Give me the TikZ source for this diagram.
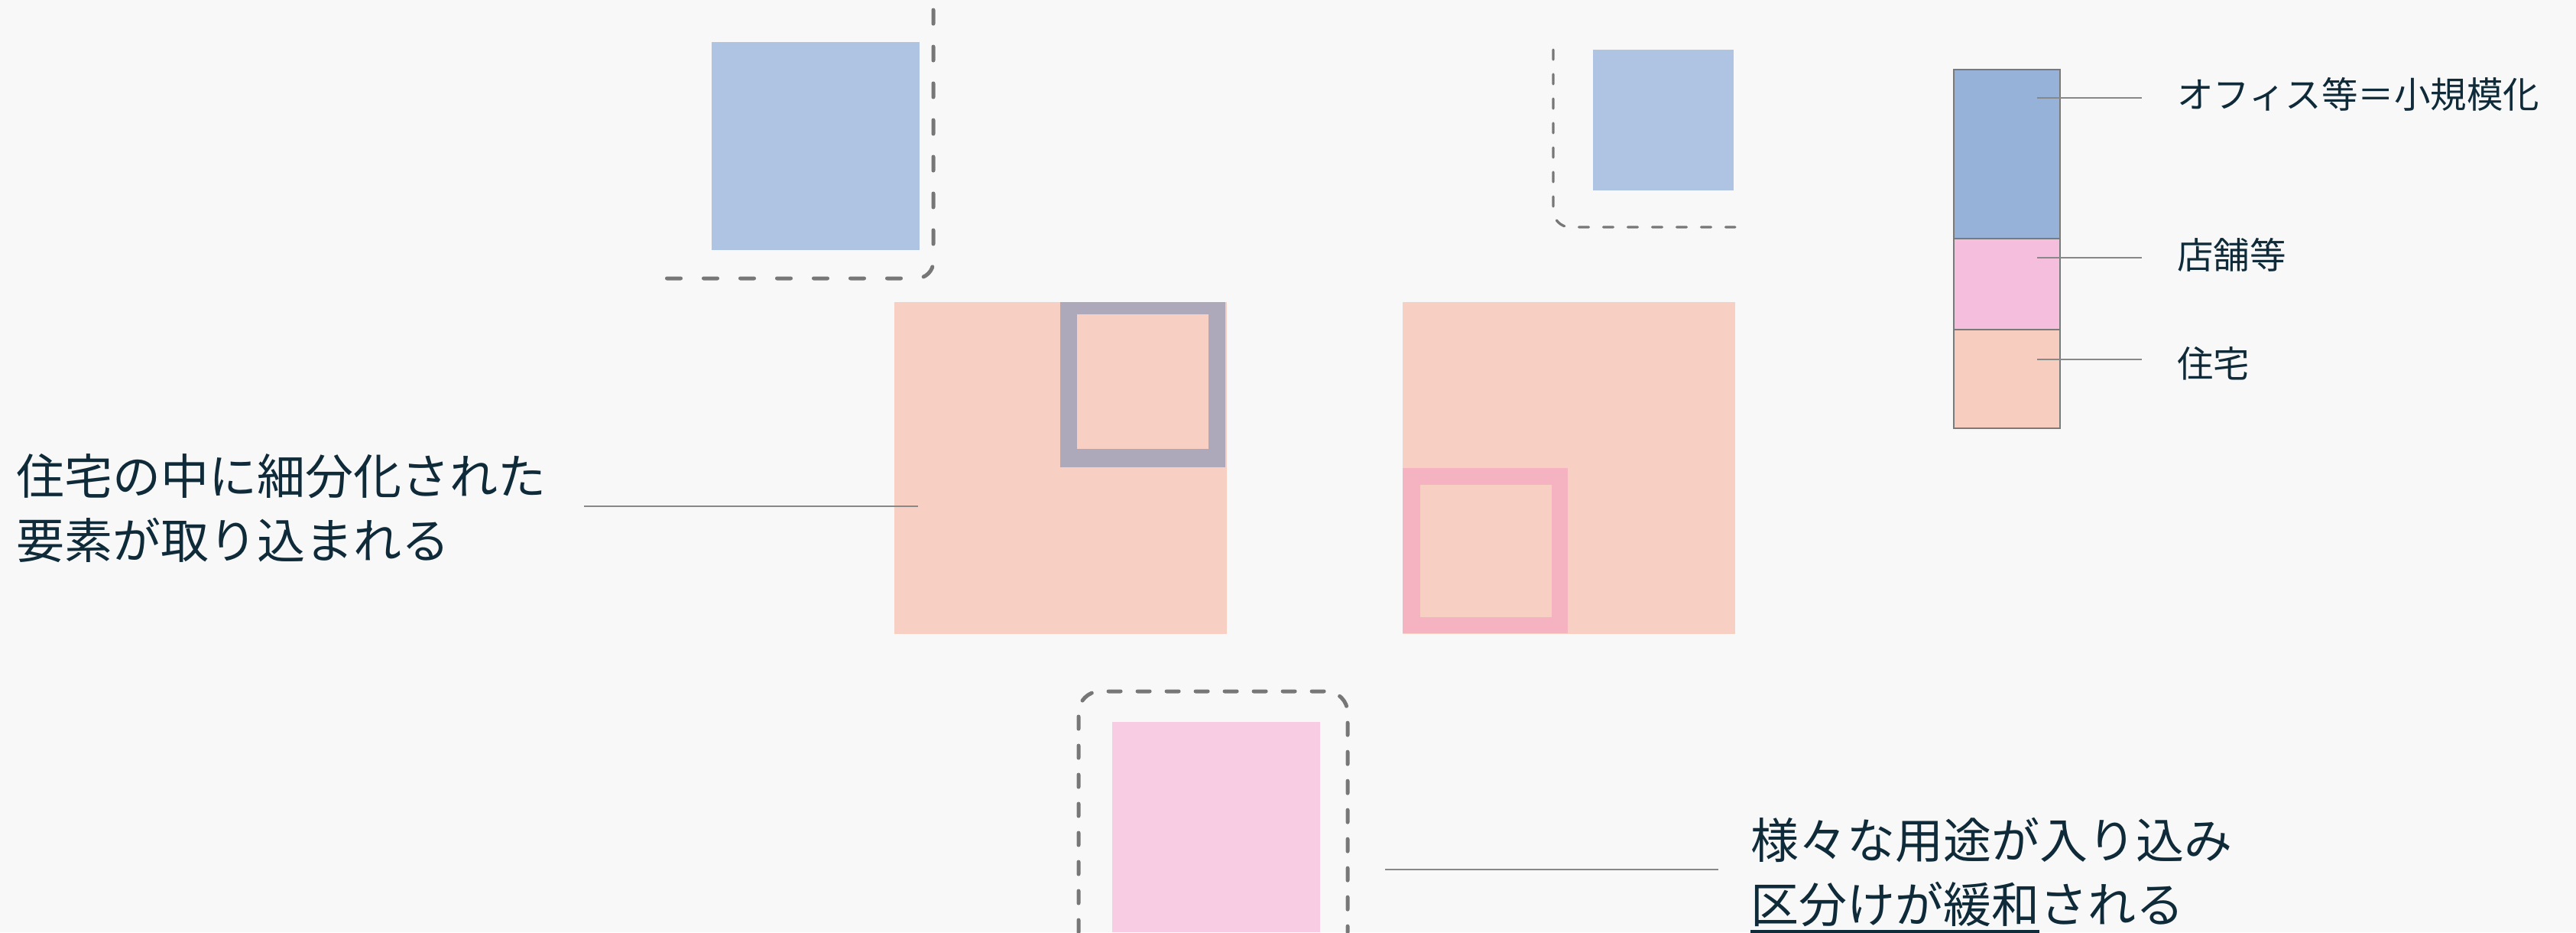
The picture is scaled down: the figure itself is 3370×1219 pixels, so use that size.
\documentclass[tikz,border=0pt]{standalone}
\usepackage{fontspec}
\setmainfont{Noto Sans CJK JP}
\definecolor{bg}{HTML}{F8F8F8}
\definecolor{ink}{HTML}{0F2A38}
\definecolor{leadgray}{HTML}{888888}
\definecolor{dashgray}{HTML}{777777}
\definecolor{bargray}{HTML}{7A7A7A}
\definecolor{offblue}{HTML}{AFC4E2}
\definecolor{legblue}{HTML}{97B2D9}
\definecolor{legpink}{HTML}{F6BEDD}
\definecolor{legpeach}{HTML}{F7CDBF}
\definecolor{homepeach}{HTML}{F7CFC3}
\definecolor{shoppink}{HTML}{F8CDE3}
\definecolor{framegray}{HTML}{ADA9BA}
\definecolor{framepink}{HTML}{F5B3C1}
\newcommand\kuline[1]{\setbox0\hbox{#1}\rlap{\rule[-14pt]{\wd0}{5pt}}\box0}
\begin{document}
\begin{tikzpicture}[x=1pt, y=-1pt,
    note/.style={text=ink, align=left, inner sep=0pt, font=\fontsize{63}{84}\selectfont},
    legtext/.style={text=ink, inner sep=0pt, anchor=west, font=\fontsize{47.5}{57}\selectfont},
    leader/.style={draw=leadgray, line width=2.5pt},
    legbar/.style={draw=bargray, line width=1.5pt},
    bound/.style={draw=dashgray, line width=5pt, line cap=round, dash pattern=on 18pt off 30pt},
    thinbound/.style={draw=dashgray, line width=3.3pt, line cap=round, dash pattern=on 13pt off 19pt}]
    \fill[bg] (0,0) rectangle (3370,1219);
    \useasboundingbox (0,0) rectangle (3370,1219);
    % upper blocks
    \fill[offblue] (931,55) rectangle (1203,327);
    \draw[bound, rounded corners=22pt] (1221,13) -- (1221,364) -- (862,364);
    \fill[offblue] (2084,65) rectangle (2268,249);
    \draw[thinbound, rounded corners=22pt] (2032,65) -- (2032,297) -- (2270,297);
    % housing blocks
    \fill[homepeach] (1170,395) rectangle (1605,829);
    \fill[framegray] (1387,395) rectangle (1603,611);
    \fill[homepeach] (1409,411) rectangle (1581,587);
    \fill[homepeach] (1835,395) rectangle (2270,829);
    \fill[framepink] (1835,612) rectangle (2051,828);
    \fill[homepeach] (1858,634) rectangle (2030,807);
    % shop block
    \fill[shoppink] (1455,944) rectangle (1727,1219);
    \draw[bound, rounded corners=28pt, dash pattern=on 16pt off 22pt] (1411,1219) -- (1411,904) -- (1763,904) -- (1763,1219);
    % legend
    \filldraw[legbar, fill=legblue] (2556,91) rectangle (2695,312);
    \filldraw[legbar, fill=legpink] (2556,312) rectangle (2695,431);
    \filldraw[legbar, fill=legpeach] (2556,431) rectangle (2695,560);
    \node[legtext] (offtxt) at (2848,123) {オフィス等＝小規模化};
    \node[legtext] (shoptxt) at (2848,333) {店舗等};
    \node[legtext] (hometxt) at (2848,475) {住宅};
    \coordinate (offpin) at (2665,128);
    \coordinate (shoppin) at (2665,337);
    \coordinate (homepin) at (2665,470);
    \draw[leader, shorten >=46pt] (offpin) -- (offpin -| offtxt.west);
    \draw[leader, shorten >=46pt] (shoppin) -- (shoppin -| shoptxt.west);
    \draw[leader, shorten >=46pt] (homepin) -- (homepin -| hometxt.west);
    % notes
    \node[note, anchor=west] (mixtxt) at (21,665) {住宅の中に細分化された\\要素が取り込まれる};
    \node[note, anchor=west] (easetxt) at (2290,1145) {様々な用途が入り込み\\\kuline{区分けが緩和}される};
    \coordinate (mixpin) at (1201,662);
    \coordinate (easepin) at (1812,1137);
    \draw[leader, shorten <=50pt] (mixpin -| mixtxt.east) -- (mixpin);
    \draw[leader, shorten >=42pt] (easepin) -- (easepin -| easetxt.west);
  \end{tikzpicture}
\end{document}
